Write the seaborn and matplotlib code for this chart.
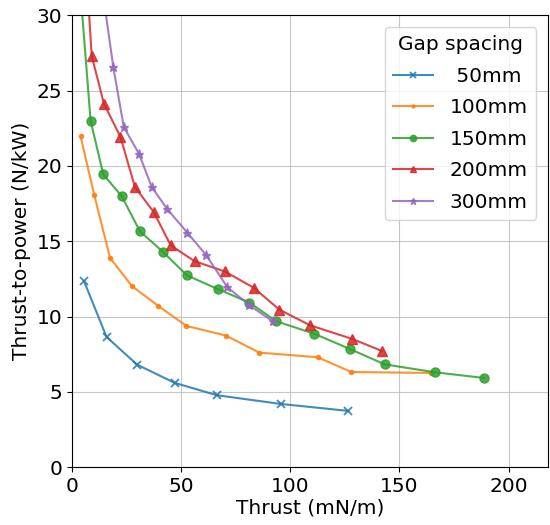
import numpy as np
import pandas as pd
import matplotlib
matplotlib.use("Agg")
import matplotlib.pyplot as plt
import seaborn as sns

labels = [" 50mm", "100mm", "150mm", "200mm", "300mm"]
markers = ["x", ".", "o", "^", "*"]

x50 = [5.5, 15.8, 29.8, 47.0, 66.4, 95.7, 126.6]
y50 = [12.35, 8.65, 6.81, 5.6, 4.78, 4.2, 3.74]

x100 = [3.9, 10.2, 17.4, 27.4, 39.3, 52.4, 70.5, 85.8, 112.5, 128.0, 164.5]
y100 = [21.96, 18.05, 13.9, 12.03, 10.73, 9.38, 8.74, 7.61, 7.30, 6.32, 6.26]

x150 = [3.5, 8.5, 14.3, 22.8, 31.1, 41.7, 52.6, 67.0, 81.3, 93.5, 110.8, 127.3, 143.2, 166.4, 188.6]
y150 = [32.2, 23.0, 19.44, 17.98, 15.66, 14.29, 12.74, 11.81, 10.93, 9.69, 8.87, 7.85, 6.83, 6.30, 5.93]

x200 = [7.0, 9.0, 14.6, 22.2, 28.8, 37.4, 45.2, 56.2, 69.9, 83.2, 95.0, 109.1, 128.5, 141.9]
y200 = [32.0, 27.3, 24.13, 21.92, 18.6, 16.94, 14.73, 13.67, 13.0, 11.92, 10.46, 9.42, 8.51, 7.72]

x300 = [14.0, 18.9, 23.7, 30.7, 36.5, 43.7, 52.8, 61.5, 71.1, 81.3, 91.9]
y300 = [31.6, 26.56, 22.58, 20.8, 18.6, 17.12, 15.57, 14.07, 11.96, 10.75, 9.69]

xs = [x50, x100, x150, x200, x300]
ys = [y50, y100, y150, y200, y300]

plt.rcParams["font.family"] = ["DejaVu Sans"]
fig = plt.figure(figsize=(5.5, 5.25), dpi=100)
ax = fig.add_axes([0.131, 0.110, 0.865, 0.861])

palette = ["#1f77b4", "#ff7f0e", "#2ca02c", "#d62728", "#9467bd"]
msizes = [6, 6, 6.5, 6.5, 6.5]
for lab, xv, yv, mk, col, ms in zip(labels, xs, ys, markers, palette, msizes):
    d = pd.DataFrame({"Thrust": xv, "TP": yv})
    sns.lineplot(data=d, x="Thrust", y="TP", marker=mk, color=col, label=lab,
                 sort=False, estimator=None, ax=ax, linewidth=1.5, alpha=0.85,
                 markersize=ms, markeredgewidth=1.0 if mk != "x" else 1.3,
                 markeredgecolor=col)

ax.set_xlim(0, 218)
ax.set_ylim(0, 30)
ax.set_xticks([0, 50, 100, 150, 200])
ax.set_yticks([0, 5, 10, 15, 20, 25, 30])
ax.grid(True, color="#b0b0b0", linewidth=0.8, alpha=0.7)
ax.tick_params(labelsize=14.5)
ax.set_xlabel("Thrust (mN/m)", fontsize=14.5, labelpad=2)
ax.set_ylabel("Thrust-to-power (N/kW)", fontsize=14.5, labelpad=4)

leg = ax.legend(title="Gap spacing", loc="upper right", fontsize=14.5,
                title_fontsize=14.5, markerscale=0.7, labelspacing=0.62,
                borderaxespad=0.6)

fig.savefig("out.png", dpi=100)
